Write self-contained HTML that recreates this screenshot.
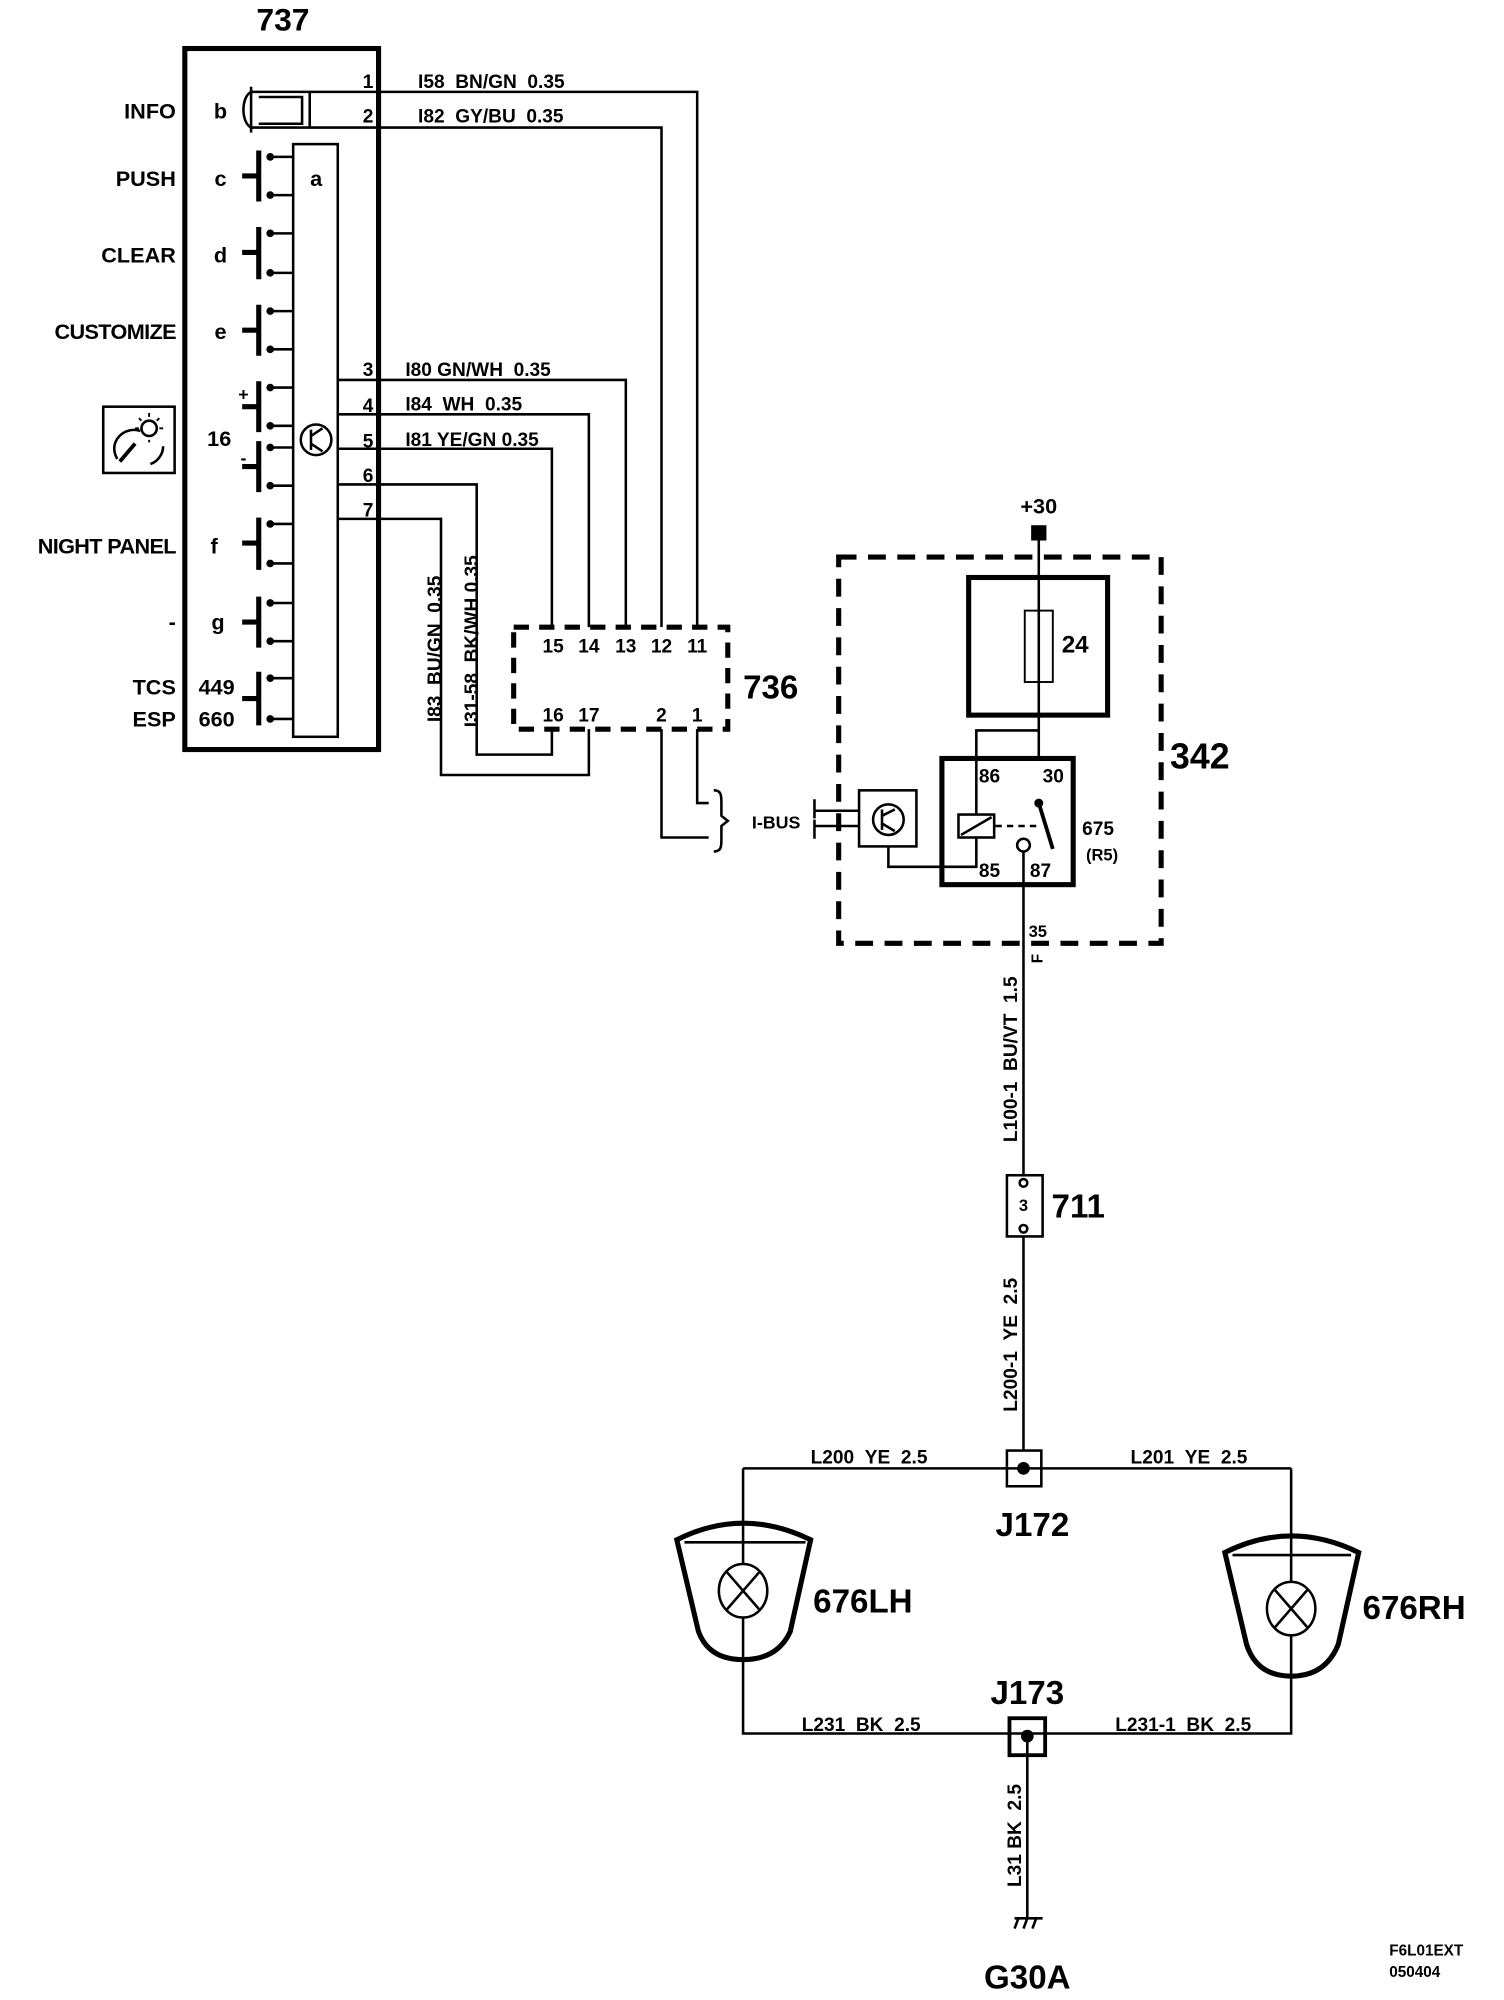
<!DOCTYPE html>
<html><head><meta charset="utf-8"><style>
html,body{margin:0;padding:0;background:#fff;}
svg{display:block;}
text{font-family:"Liberation Sans",Arial,sans-serif;fill:#000;font-weight:bold;white-space:pre;}
</style></head><body>
<svg width="1504" height="2000" viewBox="0 0 1180 1569" xmlns="http://www.w3.org/2000/svg">
<g fill="none" stroke="#000" stroke-width="2">
<rect x="145" y="38" width="152" height="550" stroke-width="4"/>
<rect x="230" y="113" width="35" height="465"/>
<path d="M212 123H230M212 153H230M212 183H230M212 214H230M212 244H230M212 274H230M212 304H230M212 334H230M212 351H230M212 381H230M212 411H230M212 442H230M212 473H230M212 503H230M212 532H230M212 564H230"/>
<g stroke-width="4">
<path d="M203 118V158M203 178V219M203 239V279M203 299V339M203 346V386M203 406V447M203 468V508M203 527V569"/>
<path d="M190 138H203M190 198H203M190 259H203M190 319H203M190 366H203M190 426H203M190 488H203M190 548H203"/>
</g>
<g fill="#000" stroke="none">
<circle cx="212" cy="123" r="3"/><circle cx="212" cy="153" r="3"/>
<circle cx="212" cy="183" r="3"/><circle cx="212" cy="214" r="3"/>
<circle cx="212" cy="244" r="3"/><circle cx="212" cy="274" r="3"/>
<circle cx="212" cy="304" r="3"/><circle cx="212" cy="334" r="3"/>
<circle cx="212" cy="351" r="3"/><circle cx="212" cy="381" r="3"/>
<circle cx="212" cy="411" r="3"/><circle cx="212" cy="442" r="3"/>
<circle cx="212" cy="473" r="3"/><circle cx="212" cy="503" r="3"/>
<circle cx="212" cy="532" r="3"/><circle cx="212" cy="564" r="3"/>
</g>
<circle cx="248" cy="345" r="12"/>
<path d="M244 337V353M244 342L253 336M244 348L253 354"/>
<path d="M197 72C189 76 189 96 197 100M197 68V104"/>
<path d="M203 76H237V97H203M243 72V100"/>
<path d="M197 72H547V492M197 100H519V492"/>
<path d="M265 298H491V492M265 325H462V492M265 352H433V492"/>
<path d="M265 380H374V592H433V572M265 407H346V608H462V572"/>
<rect x="403" y="492" width="168" height="80" stroke-width="4" stroke-dasharray="12,8"/>
<path d="M547 572V630H556M519 572V657H556"/>
<path d="M560 620C566 620 566 624 566 630V640L571 644L566 648V658C566 664 566 668 560 668"/>
<rect x="81" y="319" width="56" height="52" stroke-width="2"/>
<path d="M92 360C84 346 98 334 110 338M128 350C128 356 124 362 118 364" stroke-width="2"/>
<path d="M94 362L106 348" stroke-width="3"/>
<circle cx="117" cy="336" r="6" stroke-width="2"/>
<path d="M117 324V327M109 328L111 330M125 328L123 330M106 336H109M125 336H128M117 345V347" stroke-width="1.5"/>
<rect x="658" y="437" width="253" height="303" stroke-width="4" stroke-dasharray="14,9"/>
<rect x="760" y="453" width="109" height="108" stroke-width="4"/>
<rect x="804" y="479" width="22" height="56" stroke-width="1.5"/>
<path d="M815 424V595"/>
<rect x="739" y="595" width="103" height="99" stroke-width="4"/>
<path d="M815 573H766V639"/>
<rect x="752" y="639" width="28" height="18"/>
<path d="M754 655L778 641"/>
<path d="M781 648H815" stroke-dasharray="5,4"/>
<path d="M815 630L826 666" stroke-width="3"/>
<circle cx="803" cy="663" r="5"/>
<path d="M766 657V680H697V664"/>
<rect x="674" y="620" width="45" height="44"/>
<circle cx="697" cy="643" r="12"/>
<path d="M692 635V651M692 640L702 635M692 646L702 652"/>
<path d="M638 636H674M638 648H674M639 627V642M639 643V658"/>
<path d="M803 668V922"/>
<rect x="790" y="922" width="28" height="48"/>
<circle cx="803" cy="928" r="3" fill="#fff"/>
<circle cx="803" cy="964" r="3" fill="#fff"/>
<path d="M803 970V1138"/>
<rect x="790" y="1138" width="27" height="28" stroke-width="2"/>
<path d="M583 1152H1013"/>
<path d="M583 1152V1302M583 1302V1360H1013V1152"/>
<path d="M531 1208Q583 1182 636 1208L620 1280Q610 1302 583 1302Q556 1302 548 1280Z" fill="#fff" stroke-width="4"/>
<path d="M537 1210H632"/>
<ellipse cx="583" cy="1248" rx="19" ry="21" fill="#fff"/>
<path d="M570 1233L596 1263M596 1233L570 1263M583 1195V1227M583 1269V1302"/>
<path d="M961 1218Q1013 1192 1066 1218L1050 1290Q1040 1315 1013 1315Q986 1315 978 1290Z" fill="#fff" stroke-width="4"/>
<path d="M967 1220H1060"/>
<ellipse cx="1013" cy="1262" rx="19" ry="21" fill="#fff"/>
<path d="M1000 1247L1026 1277M1026 1247L1000 1277M1013 1203V1241M1013 1283V1315"/>
<rect x="792" y="1348" width="28" height="29" stroke-width="3"/>
<path d="M806 1362V1505M796 1505H818M799 1505L796 1513M806 1505L803 1513M813 1505L810 1513" stroke-width="2"/>
</g>
<g fill="#000">
<rect x="809" y="412" width="12" height="12"/>
<circle cx="815" cy="630" r="3.5"/>
<circle cx="803" cy="1152" r="5"/>
<circle cx="806" cy="1362" r="5"/>
</g>
<text x="222" y="24" font-size="25" text-anchor="middle">737</text>
<g font-size="17" text-anchor="end">
<text x="138" y="93">INFO</text><text x="138" y="146">PUSH</text><text x="138" y="206">CLEAR</text>
<text x="138" y="266" letter-spacing="-0.5">CUSTOMIZE</text><text x="138" y="434" letter-spacing="-0.5">NIGHT PANEL</text><text x="138" y="494">-</text>
<text x="138" y="545">TCS</text><text x="138" y="570">ESP</text>
</g>
<g font-size="17" text-anchor="middle">
<text x="173" y="93">b</text><text x="173" y="146">c</text><text x="173" y="206">d</text><text x="173" y="266">e</text>
<text x="172" y="350">16</text><text x="168" y="434">f</text><text x="171" y="494">g</text>
<text x="170" y="545">449</text><text x="170" y="570">660</text>
<text x="248" y="146">a</text>
<text x="191" y="314" font-size="14">+</text><text x="191" y="364" font-size="14">-</text>
</g>
<g font-size="15" text-anchor="end">
<text x="293" y="69">1</text><text x="293" y="96">2</text><text x="293" y="295">3</text>
<text x="293" y="323">4</text><text x="293" y="351">5</text><text x="293" y="378">6</text><text x="293" y="405">7</text>
</g>
<g font-size="15">
<text x="328" y="69">I58&#160;&#160;BN/GN&#160;&#160;0.35</text>
<text x="328" y="96">I82&#160;&#160;GY/BU&#160;&#160;0.35</text>
<text x="318" y="295">I80 GN/WH&#160;&#160;0.35</text>
<text x="318" y="322">I84&#160;&#160;WH&#160;&#160;0.35</text>
<text x="318" y="350">I81 YE/GN 0.35</text>
<text transform="translate(341,509) rotate(-90)" text-anchor="middle" dy="5">I83&#160;&#160;BU/GN&#160;&#160;0.35</text>
<text transform="translate(370,503) rotate(-90)" text-anchor="middle" dy="5">I31-58&#160;&#160;BK/WH 0.35</text>
</g>
<g font-size="15" text-anchor="middle">
<text x="434" y="512">15</text><text x="462" y="512">14</text><text x="491" y="512">13</text><text x="519" y="512">12</text><text x="547" y="512">11</text>
<text x="434" y="566">16</text><text x="462" y="566">17</text><text x="519" y="566">2</text><text x="547" y="566">1</text>
</g>
<text x="583" y="548" font-size="26">736</text>
<text x="628" y="650" font-size="14" text-anchor="end">I-BUS</text>
<text x="815" y="403" font-size="17" text-anchor="middle">+30</text>
<text x="833" y="512" font-size="19">24</text>
<g font-size="15">
<text x="768" y="614">86</text><text x="818" y="614">30</text><text x="768" y="688">85</text><text x="808" y="688">87</text>
<text x="849" y="655">675</text><text x="852" y="675" font-size="13">(R5)</text>
<text x="807" y="735" font-size="13">35</text>
</g>
<text x="918" y="603" font-size="28">342</text>
<g font-size="15">
<text transform="translate(818,752) rotate(-90)" font-size="12" text-anchor="middle">F</text>
<text transform="translate(798,831) rotate(-90)" text-anchor="middle">L100-1&#160;&#160;BU/VT&#160;&#160;1.5</text>
<text transform="translate(798,1055) rotate(-90)" text-anchor="middle">L200-1&#160;&#160;YE&#160;&#160;2.5</text>
<text transform="translate(801,1440) rotate(-90)" text-anchor="middle">L31 BK&#160;&#160;2.5</text>
<text x="636" y="1148">L200&#160;&#160;YE&#160;&#160;2.5</text>
<text x="887" y="1148">L201&#160;&#160;YE&#160;&#160;2.5</text>
<text x="629" y="1358">L231&#160;&#160;BK&#160;&#160;2.5</text>
<text x="875" y="1358">L231-1&#160;&#160;BK&#160;&#160;2.5</text>
</g>
<text x="803" y="950" font-size="13" text-anchor="middle">3</text>
<text x="825" y="955" font-size="26">711</text>
<text x="810" y="1205" font-size="26" text-anchor="middle">J172</text>
<text x="806" y="1337" font-size="26" text-anchor="middle">J173</text>
<text x="638" y="1265" font-size="26">676LH</text>
<text x="1069" y="1270" font-size="26">676RH</text>
<text x="806" y="1560" font-size="26" text-anchor="middle">G30A</text>
<text x="1090" y="1534" font-size="12">F6L01EXT</text>
<text x="1090" y="1551" font-size="12">050404</text>
</svg>
</body></html>
